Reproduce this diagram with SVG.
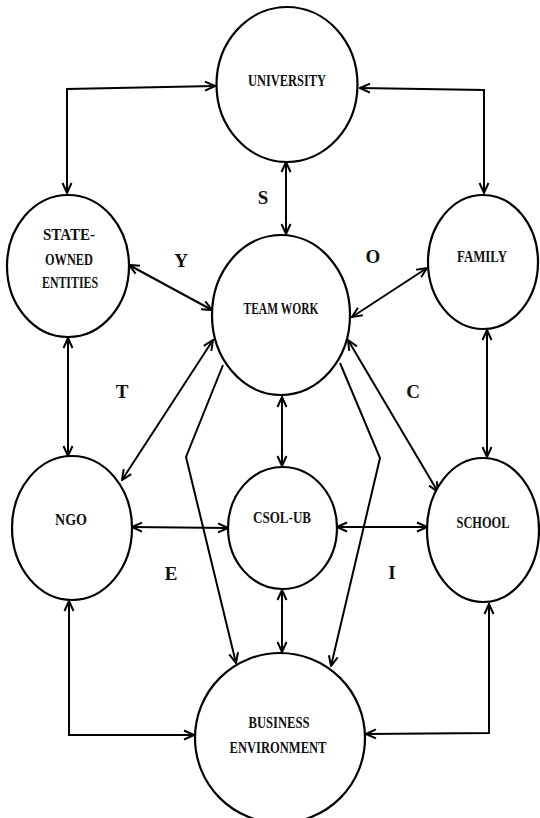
<svg xmlns="http://www.w3.org/2000/svg" width="540" height="818" viewBox="0 0 540 818">
<style>
.node{fill:#fff;stroke:#000;stroke-width:2.2}
.lbl{font-family:"Liberation Serif","Times New Roman",serif;font-weight:bold;font-size:16px;fill:#111;text-anchor:middle}
.let{font-family:"Liberation Serif","Times New Roman",serif;font-weight:bold;font-size:19px;fill:#111;text-anchor:middle}
.c path{fill:none;stroke:#000;stroke-width:2}
</style>
<defs>
<marker id="ah" viewBox="0 0 12 12" refX="11" refY="6" markerWidth="12" markerHeight="12" markerUnits="userSpaceOnUse" orient="auto-start-reverse">
<path d="M1,1.5 L11,6 L1,10.5" fill="none" stroke="#000" stroke-width="2"/>
</marker>
</defs>
<rect width="540" height="818" fill="#fff"/>
<g id="connectors" class="c">
<path d="M67,193 L67,89 L215,86" marker-start="url(#ah)" marker-end="url(#ah)"/>
<path d="M484,193 L484,90 L360,88" marker-start="url(#ah)" marker-end="url(#ah)"/>
<path d="M286,162 L286,234" marker-start="url(#ah)" marker-end="url(#ah)"/>
<path d="M129,265 L212,310" marker-start="url(#ah)" marker-end="url(#ah)"/>
<path d="M427,268 L352,317" marker-start="url(#ah)" marker-end="url(#ah)"/>
<path d="M68,338 L68,456" marker-start="url(#ah)" marker-end="url(#ah)"/>
<path d="M487,330 L487,457" marker-start="url(#ah)" marker-end="url(#ah)"/>
<path d="M213,340 L122,480" marker-start="url(#ah)" marker-end="url(#ah)"/>
<path d="M348,340 L438,492" marker-start="url(#ah)" marker-end="url(#ah)"/>
<path d="M282,397 L282,466" marker-start="url(#ah)" marker-end="url(#ah)"/>
<path d="M223,365 L186,457 L236,663" marker-end="url(#ah)"/>
<path d="M340,363 L380,458 L331,666" marker-end="url(#ah)"/>
<path d="M132,527 L228,528" marker-start="url(#ah)" marker-end="url(#ah)"/>
<path d="M337,527 L427,527" marker-start="url(#ah)" marker-end="url(#ah)"/>
<path d="M282,590 L282,652" marker-start="url(#ah)" marker-end="url(#ah)"/>
<path d="M69,601 L69,735 L194,735" marker-start="url(#ah)" marker-end="url(#ah)"/>
<path d="M489,604 L489,733 L366,734" marker-start="url(#ah)" marker-end="url(#ah)"/>
</g>
<g id="university"><ellipse class="node" cx="287" cy="84.5" rx="70.5" ry="77.5"/><text class="lbl" x="287" y="86" textLength="78" lengthAdjust="spacingAndGlyphs">UNIVERSITY</text></g>
<g id="state-owned"><ellipse class="node" cx="68" cy="266" rx="61" ry="71"/><text class="lbl" x="69" y="240" textLength="52" lengthAdjust="spacingAndGlyphs">STATE-</text><text class="lbl" x="69" y="265" textLength="48" lengthAdjust="spacingAndGlyphs">OWNED</text><text class="lbl" x="70" y="288" textLength="56" lengthAdjust="spacingAndGlyphs">ENTITIES</text></g>
<g id="family"><ellipse class="node" cx="483" cy="262" rx="55" ry="67"/><text class="lbl" x="482" y="262" textLength="50" lengthAdjust="spacingAndGlyphs">FAMILY</text></g>
<g id="teamwork"><ellipse class="node" cx="281" cy="315" rx="69" ry="80"/><text class="lbl" x="281" y="314" textLength="75" lengthAdjust="spacingAndGlyphs">TEAM WORK</text></g>
<g id="ngo"><ellipse class="node" cx="72" cy="528" rx="60" ry="72"/><text class="lbl" x="71" y="525" textLength="32" lengthAdjust="spacingAndGlyphs">NGO</text></g>
<g id="csol-ub"><ellipse class="node" cx="282.5" cy="528" rx="54.5" ry="61"/><text class="lbl" x="282" y="523" textLength="58" lengthAdjust="spacingAndGlyphs">CSOL-UB</text></g>
<g id="school"><ellipse class="node" cx="483" cy="530" rx="56" ry="72"/><text class="lbl" x="483" y="528" textLength="53" lengthAdjust="spacingAndGlyphs">SCHOOL</text></g>
<g id="business"><ellipse class="node" cx="280" cy="738" rx="85" ry="85"/><text class="lbl" x="279" y="728" textLength="61" lengthAdjust="spacingAndGlyphs">BUSINESS</text><text class="lbl" x="278" y="753" textLength="97" lengthAdjust="spacingAndGlyphs">ENVIRONMENT</text></g>
<g id="letters">
<text class="let" x="263" y="204">S</text>
<text class="let" x="181" y="267">Y</text>
<text class="let" x="373" y="263">O</text>
<text class="let" x="122" y="398">T</text>
<text class="let" x="413" y="398">C</text>
<text class="let" x="171" y="580">E</text>
<text class="let" x="392" y="579">I</text>
</g>
</svg>
